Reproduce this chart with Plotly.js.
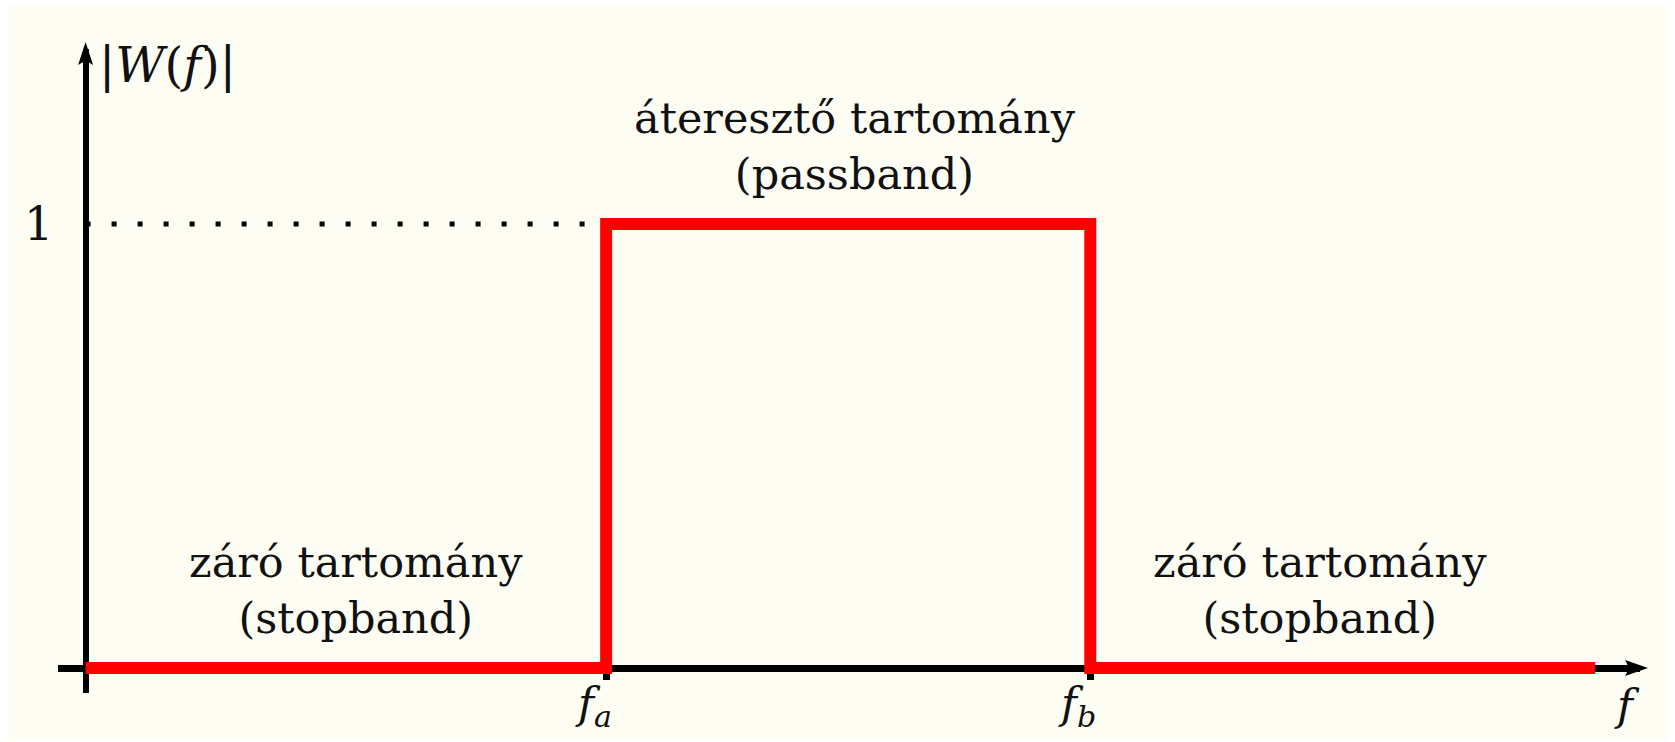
<!DOCTYPE html>
<html>
<head>
<meta charset="utf-8">
<script src="https://cdn.plot.ly/plotly-3.0.1.min.js"></script>
<style>
  html, body { margin: 0; padding: 0; background: #ffffff; }
  #chart { width: 1675px; height: 742px; }
</style>
</head>
<body>
<div id="chart"></div>
<script>
// Ideal band-pass filter magnitude response |W(f)|
const fa = 1.0;          // lower band edge
const fb = 1.93;         // upper band edge
const fEnd = 2.9;        // end of the drawn response
const freqPts = [0, fa, fb, fEnd];
const gainPts = [0, 1, 0, 0];
const passGain = 1;

const xTickVals = [fa, fb];
const xTickLabels = ['<i>f</i><sub><i>a</i></sub>', '<i>f</i><sub><i>b</i></sub>'];
const yTickVals = [passGain];
const yTickLabels = ['1'];

const regionTexts = [
  'záró tartomány<br>(stopband)',
  'átereszt\u0151 tartomány<br>(passband)',
  'záró tartomány<br>(stopband)'
];
const regionX = [0.519, 1.478, 2.372];
const regionY = [0.176, 1.176, 0.176];

const serif = 'DejaVu Serif, Liberation Serif, serif';
const ink = '#111111';

const traces = [
  {
    // dotted guide at the passband gain
    x: [0, fa],
    y: [passGain, passGain],
    mode: 'lines',
    line: { color: '#000000', width: 5, dash: '5px,21px' },
    hoverinfo: 'skip'
  },
  {
    x: freqPts,
    y: gainPts,
    mode: 'lines',
    line: { color: '#ff0000', width: 12, shape: 'hv' },
    hoverinfo: 'skip'
  }
];

const annotations = regionTexts.map((t, i) => ({
  x: regionX[i], y: regionY[i], xref: 'x', yref: 'y',
  text: t, showarrow: false, xanchor: 'center', yanchor: 'middle',
  align: 'center', font: { family: serif, size: 43, color: ink }
}));

// band-edge labels under the frequency axis
xTickVals.forEach((v, i) => {
  annotations.push({
    x: v, y: 0, xref: 'x', yref: 'y', xshift: -13, yshift: -38,
    text: xTickLabels[i], showarrow: false,
    xanchor: 'center', yanchor: 'middle',
    font: { family: serif, size: 43, color: ink }
  });
});

annotations.push({
  x: 0.022, y: 1.358, xref: 'x', yref: 'y',
  text: '|<i>W</i>(<i>f</i>)|', showarrow: false,
  xanchor: 'left', yanchor: 'middle',
  font: { family: serif, size: 48, color: ink }
});
annotations.push({
  x: 2.961, y: 0, xref: 'x', yref: 'y', yshift: -37,
  text: '<i>f</i>', showarrow: false,
  xanchor: 'center', yanchor: 'middle',
  font: { family: serif, size: 43, color: ink }
});

const layout = {
  width: 1675,
  height: 742,
  margin: { l: 0, r: 0, t: 0, b: 0, pad: 0 },
  paper_bgcolor: '#ffffff',
  plot_bgcolor: 'rgba(0,0,0,0)',
  showlegend: false,
  xaxis: {
    domain: [58 / 1675, 1640 / 1675],
    range: [-0.053, 2.986],
    anchor: 'free',
    position: 74 / 742,
    showline: true, linecolor: '#000000', linewidth: 7,
    layer: 'below traces',
    showgrid: false, zeroline: false,
    tickmode: 'array', tickvals: xTickVals,
    ticks: 'outside', ticklen: 8, tickwidth: 7, tickcolor: '#000000',
    showticklabels: false,
    fixedrange: true
  },
  yaxis: {
    domain: [49 / 742, 693 / 742],
    range: [-0.0563, 1.394],
    anchor: 'free',
    position: 85.5 / 1675,
    showline: true, linecolor: '#000000', linewidth: 6,
    layer: 'below traces',
    showgrid: false, zeroline: false,
    tickmode: 'array', tickvals: yTickVals, ticktext: yTickLabels,
    ticks: '', ticklabelstandoff: 20,
    tickfont: { family: serif, size: 46, color: ink },
    fixedrange: true
  },
  shapes: [
    {
      // cream canvas
      type: 'rect', xref: 'paper', yref: 'paper',
      x0: 8 / 1675, x1: 1669 / 1675, y0: 2 / 742, y1: 736 / 742,
      fillcolor: '#fdfdf4', line: { width: 0 }, layer: 'below'
    },
    {
      // arrowhead of the frequency axis
      type: 'path', xref: 'x domain', yref: 'y',
      xsizemode: 'pixel', ysizemode: 'pixel', xanchor: 1, yanchor: 0,
      path: 'M8,0 L-15,8 Q-9,0 -15,-8 Z',
      fillcolor: '#000000', line: { width: 0 }
    },
    {
      // arrowhead of the magnitude axis
      type: 'path', xref: 'x', yref: 'y domain',
      xsizemode: 'pixel', ysizemode: 'pixel', xanchor: 0, yanchor: 1,
      path: 'M0,7 L-7.5,-16 Q0,-10 7.5,-16 Z',
      fillcolor: '#000000', line: { width: 0 }
    }
  ],
  annotations: annotations
};

Plotly.newPlot('chart', traces, layout, { staticPlot: true, displayModeBar: false });
</script>
</body>
</html>
